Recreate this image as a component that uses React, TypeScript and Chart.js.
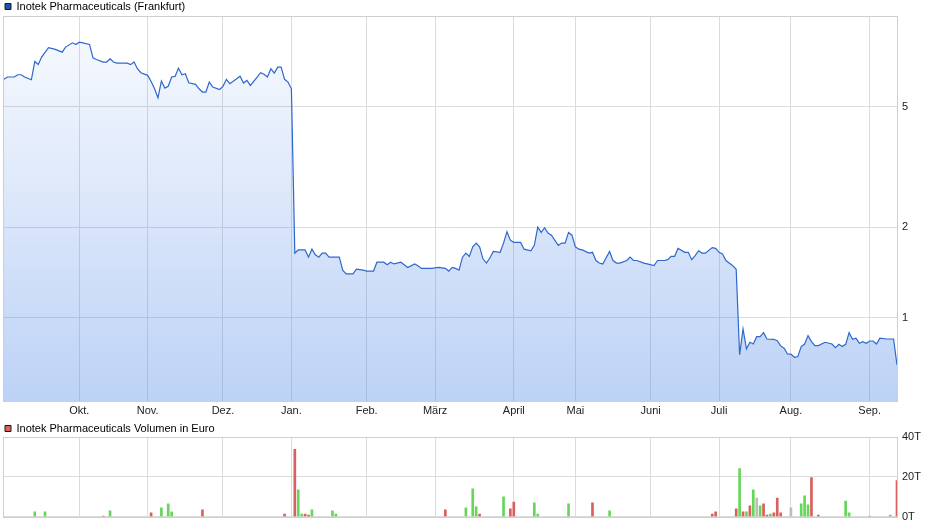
import React, { useEffect, useRef } from 'react';
import { Chart, registerables } from 'chart.js';

Chart.register(...registerables);

// Trading-day index (0 = first day shown) and closing price in EUR
const priceDays = [
  0, 1, 3, 4, 5, 6, 8, 9, 10, 11, 13, 15, 17, 18, 20, 21, 22, 23, 25, 26, 27, 29, 30, 31, 32, 33, 35, 36, 37, 38,
  39, 40, 42, 43, 44, 45, 46, 47, 48, 49, 50, 51, 52, 53, 54, 56, 57, 58, 59, 60, 61, 63, 64, 65, 66, 68, 69, 70,
  71, 72, 74, 75, 76, 77, 78, 79, 80, 81, 82, 83, 84, 85, 86, 88, 89, 90, 91, 92, 93, 94, 95, 97, 98, 99, 100,
  102, 103, 105, 106, 108, 109, 111, 112, 113, 114, 116, 118, 120, 121, 122, 125, 127, 129, 130, 131, 132, 133,
  134, 135, 136, 137, 138, 139, 140, 141, 142, 143, 145, 146, 147, 148, 149, 151, 152, 154, 155, 156, 157, 158,
  159, 160, 162, 163, 164, 165, 166, 167, 168, 169, 171, 172, 173, 174, 175, 177, 178, 179, 180, 182, 183, 184,
  185, 187, 188, 190, 191, 193, 194, 195, 196, 197, 199, 200, 201, 202, 203, 204, 205, 207, 208, 209, 210, 211,
  213, 214, 215, 216, 217, 218, 219, 220, 221, 222, 223, 225, 226, 227, 228, 229, 230, 231, 232, 233, 234, 235,
  236, 237, 238, 240, 242, 243, 244, 245, 246, 247, 248, 249, 250, 251, 252, 253, 254, 255, 256, 258, 260, 261,
];
const priceValues = [
  6.17, 6.28, 6.28, 6.39, 6.39, 6.28, 6.15, 7.07, 6.91, 7.31, 7.85, 7.75, 7.59, 7.89, 8.15, 8.05, 8.19, 8.15, 8.05,
  7.27, 7.18, 7.04, 7.04, 7.22, 7.04, 6.98, 6.98, 6.98, 6.9, 7.04, 6.69, 6.49, 6.36, 6.07, 5.74, 5.36, 6.09, 5.77,
  5.85, 6.28, 6.31, 6.72, 6.39, 6.44, 6.01, 5.94, 5.74, 5.6, 5.6, 6.04, 5.82, 5.71, 5.85, 6.17, 5.97, 6.2, 6.32,
  6.0, 6.12, 5.89, 6.28, 6.49, 6.41, 6.28, 6.69, 6.47, 6.77, 6.77, 6.17, 6.04, 5.74, 1.64, 1.68, 1.68, 1.59, 1.69,
  1.62, 1.59, 1.64, 1.64, 1.59, 1.59, 1.59, 1.44, 1.4, 1.4, 1.45, 1.44, 1.43, 1.43, 1.53, 1.53, 1.5, 1.53, 1.51,
  1.53, 1.47, 1.51, 1.49, 1.46, 1.46, 1.47, 1.46, 1.43, 1.47, 1.46, 1.44, 1.59, 1.64, 1.6, 1.72, 1.77, 1.72, 1.57,
  1.52, 1.58, 1.66, 1.65, 1.77, 1.93, 1.81, 1.78, 1.78, 1.69, 1.67, 1.74, 2.0, 1.92, 1.99, 1.91, 1.88, 1.74, 1.77,
  1.77, 1.92, 1.88, 1.72, 1.69, 1.68, 1.64, 1.65, 1.55, 1.52, 1.51, 1.66, 1.55, 1.52, 1.52, 1.55, 1.59, 1.55,
  1.55, 1.52, 1.51, 1.49, 1.55, 1.55, 1.56, 1.6, 1.6, 1.7, 1.65, 1.65, 1.56, 1.61, 1.67, 1.64, 1.64, 1.71, 1.7,
  1.65, 1.63, 1.55, 1.49, 1.45, 0.755, 0.92, 0.79, 0.831, 0.82, 0.867, 0.867, 0.894, 0.852, 0.85, 0.841, 0.808,
  0.794, 0.76, 0.759, 0.741, 0.745, 0.804, 0.82, 0.874, 0.835, 0.81, 0.81, 0.831, 0.82, 0.798, 0.818, 0.804,
  0.818, 0.894, 0.85, 0.857, 0.825, 0.835, 0.825, 0.839, 0.839, 0.82, 0.857, 0.852, 0.852, 0.699,
];

// Volume in EUR per trading day (days with no visible bar omitted)
const volDays = [
  9, 12, 29, 31, 43, 46, 48, 49, 58, 82, 85, 86, 87, 88, 89, 90, 96, 97, 129, 135, 137, 138, 139, 146, 148, 149,
  155, 156, 165, 172, 177, 207, 208, 214, 215, 216, 217, 218, 219, 220, 221, 222, 223, 224, 225, 226, 227, 230,
  233, 234, 235, 236, 238, 246, 247, 253, 259, 261,
];
const volValues = [
  2400, 2400, 300, 2900, 1900, 4400, 6400, 2400, 3400, 1350, 33800, 13500, 1350, 1350, 850, 3400, 2900, 1350, 3400,
  4400, 14000, 4900, 1350, 10000, 3900, 7400, 6900, 1350, 6400, 6900, 2900, 1350, 2400, 3900, 24100, 2400, 2400,
  5400, 13500, 9400, 5400, 6400, 850, 1350, 1900, 9400, 1900, 4400, 6400, 10500, 5900, 19600, 850, 7900, 1900, 350,
  850, 18100,
];
const volDirs = [
  'up', 'up', 'down', 'up', 'down', 'up', 'up', 'up', 'down', 'down', 'down', 'up', 'up', 'down', 'down', 'up', 'up',
  'up', 'down', 'up', 'up', 'up', 'down', 'up', 'down', 'down', 'up', 'up', 'up', 'down', 'up', 'down', 'down',
  'down', 'up', 'down', 'up', 'down', 'up', 'flat', 'up', 'down', 'down', 'up', 'down', 'down', 'down', 'flat', 'up',
  'up', 'up', 'down', 'down', 'up', 'up', 'up', 'up', 'down',
];

const monthDays = [22, 42, 64, 84, 106, 126, 149, 167, 189, 209, 230, 253];
const monthLabels = ['Okt.', 'Nov.', 'Dez.', 'Jan.', 'Feb.', 'März', 'April', 'Mai', 'Juni', 'Juli', 'Aug.', 'Sep.'];
const priceTicks = [1, 2, 5];
const volTicks = [0, 20000, 40000];
const DAY_MAX = 261;
const PRICE_MIN = 0.531;
const PRICE_MAX = 10;

const FONT = { family: '"Liberation Sans", Arial, Helvetica, sans-serif', size: 11 };
const GRID = '#dcdcdc';
const TEXT = '#222222';
const VOL_COLORS: Record<string, string> = { up: '#66d65a', down: '#d9605c', flat: '#bdbdbd' };

const framePlugin = {
  id: 'frame',
  afterDatasetsDraw(chart: any) {
    const { ctx, chartArea: a } = chart;
    ctx.save();
    ctx.strokeStyle = '#cfcfcf';
    ctx.lineWidth = 1;
    ctx.strokeRect(Math.round(a.left) - 0.5, Math.round(a.top) + 0.5, Math.round(a.right - a.left) + 1, Math.round(a.bottom - a.top));
    ctx.restore();
  },
};

function monthScale(showLabels: boolean, height: number) {
  return {
    type: 'linear' as const,
    min: 0,
    max: DAY_MAX,
    offset: false,
    afterBuildTicks: (s: any) => {
      s.ticks = monthDays.map((v) => ({ value: v }));
    },
    afterFit: (s: any) => {
      s.height = height;
    },
    ticks: {
      display: showLabels,
      autoSkip: false,
      maxRotation: 0,
      padding: 3,
      font: FONT,
      color: TEXT,
      callback: (_v: any, i: number) => monthLabels[i] ?? '',
    },
    grid: { color: GRID, drawTicks: false, offset: false },
    border: { display: false },
  };
}

function legendOptions(text: string, fill: string, maxHeight: number) {
  return {
    display: true,
    position: 'top' as const,
    align: 'start' as const,
    maxHeight,
    labels: {
      boxWidth: 6,
      boxHeight: 6,
      padding: 1,
      font: FONT,
      color: TEXT,
      generateLabels: () => [
        { text, fillStyle: fill, strokeStyle: '#1a1a1a', lineWidth: 1, hidden: false, datasetIndex: 0 } as any,
      ],
    },
  };
}

export default function App() {
  const priceRef = useRef<HTMLCanvasElement>(null);
  const volRef = useRef<HTMLCanvasElement>(null);

  useEffect(() => {
    const priceChart = new Chart(priceRef.current!, {
      type: 'line',
      data: {
        datasets: [
          {
            label: 'Inotek Pharmaceuticals (Frankfurt)',
            data: priceDays.map((d, i) => ({ x: d, y: priceValues[i] })),
            borderColor: '#2f68cc',
            borderWidth: 1.2,
            pointRadius: 0,
            tension: 0,
            fill: 'start',
            backgroundColor: (c: any) => {
              const area = c.chart.chartArea;
              if (!area) return 'rgba(70,130,230,0.2)';
              const g = c.chart.ctx.createLinearGradient(0, area.top, 0, area.bottom);
              g.addColorStop(0, 'rgba(70,130,230,0.03)');
              g.addColorStop(1, 'rgba(70,130,230,0.36)');
              return g;
            },
          },
        ],
      },
      options: {
        responsive: false,
        animation: false,
        layout: { padding: { left: 4, right: 0, top: 0, bottom: 0 } },
        plugins: {
          tooltip: { enabled: false },
          legend: legendOptions('Inotek Pharmaceuticals (Frankfurt)', '#1d54b5', 16) as any,
        },
        scales: {
          x: monthScale(true, 21) as any,
          y: {
            type: 'logarithmic',
            position: 'right',
            min: PRICE_MIN,
            max: PRICE_MAX,
            afterBuildTicks: (s: any) => {
              s.ticks = priceTicks.map((v) => ({ value: v }));
            },
            afterFit: (s: any) => {
              s.width = 43;
            },
            ticks: { font: FONT, color: TEXT, padding: 5, callback: (v: any) => String(v) },
            grid: { color: GRID, drawTicks: false },
            border: { display: false },
          } as any,
        },
      },
      plugins: [framePlugin],
    });

    const volChart = new Chart(volRef.current!, {
      type: 'bar',
      data: {
        datasets: [
          {
            label: 'Inotek Pharmaceuticals Volumen in Euro',
            data: volDays.map((d, i) => ({ x: d, y: volValues[i] })),
            backgroundColor: volDirs.map((d) => VOL_COLORS[d]),
            borderWidth: 0,
            barThickness: 2,
          },
        ],
      },
      options: {
        responsive: false,
        animation: false,
        layout: { padding: { left: 4, right: 0, top: 0, bottom: 0 } },
        plugins: {
          tooltip: { enabled: false },
          legend: legendOptions('Inotek Pharmaceuticals Volumen in Euro', '#d9605c', 15) as any,
        },
        scales: {
          x: monthScale(false, 17.3) as any,
          y: {
            type: 'linear',
            position: 'right',
            min: 0,
            max: 40000,
            afterBuildTicks: (s: any) => {
              s.ticks = volTicks.map((v) => ({ value: v }));
            },
            afterFit: (s: any) => {
              s.width = 43;
            },
            ticks: { font: FONT, color: TEXT, padding: 5, callback: (v: any) => `${Number(v) / 1000}T` },
            grid: { color: GRID, drawTicks: false },
            border: { display: false },
          } as any,
        },
      },
      plugins: [framePlugin],
    });

    return () => {
      priceChart.destroy();
      volChart.destroy();
    };
  }, []);

  return (
    <div style={{ position: 'absolute', left: 0, top: 0, width: 940, height: 526, overflow: 'hidden', background: '#fff' }}>
      <canvas ref={priceRef} width={940} height={422} style={{ position: 'absolute', left: 0, top: 0, display: 'block' }} />
      <canvas ref={volRef} width={940} height={112} style={{ position: 'absolute', left: 0, top: 422, display: 'block' }} />
    </div>
  );
}
